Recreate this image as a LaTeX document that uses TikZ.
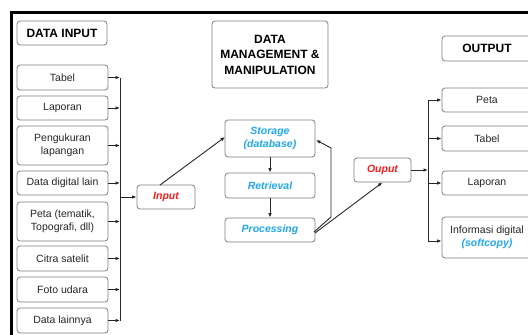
\documentclass[tikz,border=0pt]{standalone}
\usepackage{fontspec}
\setmainfont{Liberation Sans}
\usetikzlibrary{arrows.meta}
\definecolor{boxgray}{HTML}{7F7F7F}
\definecolor{txtblue}{HTML}{1FA8F0}
\definecolor{txtred}{HTML}{FF1A1A}
\tikzset{
  box/.style={draw=boxgray, line width=0.8pt, rounded corners=3pt, fill=white,
    align=center, inner sep=1pt, font=\fontsize{10.5}{12.5}\selectfont, text=black!85},
  titlebox/.style={box, font=\bfseries\fontsize{12}{15.5}\selectfont, text=black},
  bluet/.style={text=txtblue, font=\bfseries\itshape\fontsize{10.5}{13}\selectfont},
  redt/.style={text=txtred, font=\bfseries\itshape\fontsize{10.5}{13}\selectfont},
  conn/.style={line width=0.9pt, draw=black!85},
  arr/.style={conn, -{Latex[length=4.5pt,width=3.6pt]}},
  frame/.style={line width=3pt, draw=black}
}
\begin{document}
\begin{tikzpicture}[x=1pt,y=-1pt]
\useasboundingbox (0,0) rectangle (528,335);
\clip (0,0) rectangle (528,335);
% frame
\draw[frame] (11,335) -- (11,12.5) -- (528,12.5);
% titles
\node[titlebox, minimum width=90pt, minimum height=24pt] (tin) at (62,33) {DATA INPUT};
\node[titlebox, minimum width=116pt, minimum height=67pt] (tdm) at (270,54.5) {DATA\\MANAGEMENT \&\\MANIPULATION};
\node[titlebox, minimum width=90pt, minimum height=25pt] (tout) at (487,48.5) {OUTPUT};
% input boxes
\node[box, minimum width=91pt, minimum height=25pt] (in1) at (62.5,77.5) {Tabel};
\node[box, minimum width=91pt, minimum height=24pt] (in2) at (62.5,108) {Laporan};
\node[box, minimum width=91pt, minimum height=39pt] (in3) at (62.5,145.5) {Pengukuran\\lapangan};
\node[box, minimum width=91pt, minimum height=24pt] (in4) at (62.5,183) {Data digital lain};
\node[box, minimum width=91pt, minimum height=39pt] (in5) at (62.5,221.5) {Peta (tematik,\\Topografi, dll)};
\node[box, minimum width=91pt, minimum height=25pt] (in6) at (62.5,258.5) {Citra satelit};
\node[box, minimum width=91pt, minimum height=25pt] (in7) at (62.5,289.5) {Foto udara};
\node[box, minimum width=91pt, minimum height=25pt] (in8) at (62.5,320.5) {Data lainnya};
% input bus
\coordinate (bt) at (120,77.5);
\coordinate (bb) at (120,320.5);
\coordinate (bm) at (120,197);
\draw[conn] (bt) -- (bb);
\foreach \i in {1,...,8}{
  \draw[arr] (in\i.east) -- (in\i.east -| bt);
}
% middle
\node[box, minimum width=58pt, minimum height=24pt, redt] (inp) at (166,197) {Input};
\draw[arr] (bm) -- (inp.west);
\node[box, minimum width=90pt, minimum height=37pt, bluet] (sto) at (270,138.5) {Storage\\(database)};
\node[box, minimum width=90pt, minimum height=25pt, bluet] (ret) at (270,185.5) {Retrieval};
\node[box, minimum width=90pt, minimum height=24pt, bluet] (pro) at (270,230) {Processing};
\coordinate (ia) at (160,185);
\coordinate (sa) at (225,137);
\draw[arr] (ia) -- (sa);
\draw[arr] (sto) -- (ret);
\draw[arr] (ret) -- (pro);
\coordinate (pa) at (314,232);
\coordinate (pb) at (331,217);
\coordinate (pc) at (331,148);
\coordinate (sb) at (316,140);
\draw[arr] (pa) -- (pb) -- (pc) -- (sb);
\node[box, minimum width=57pt, minimum height=24pt, redt] (oup) at (382.5,170) {Ouput};
\coordinate (pd) at (315,233);
\draw[arr] (pd) -- (oup.south);
% output bus
\coordinate (ot) at (428,100);
\coordinate (ob) at (428,241);
\draw[conn] (ot) -- (ob);
\draw[arr] (oup.east) -- (oup.east -| ot);
\node[box, minimum width=90pt, minimum height=24pt] (out1) at (487,100) {Peta};
\node[box, minimum width=90pt, minimum height=25pt] (out2) at (487,138.5) {Tabel};
\node[box, minimum width=90pt, minimum height=24pt] (out3) at (487,183) {Laporan};
\node[box, minimum width=90pt, minimum height=41pt] (out4) at (487,237.5) {Informasi digital\\{\bfseries\itshape\color{txtblue}(softcopy)}};
\draw[arr] (ot) -- (ot -| out1.west);
\draw[arr] (out2.west -| ot) -- (out2.west);
\draw[arr] (out3.west -| ot) -- (out3.west);
\draw[arr] (ob) -- (ob -| out4.west);
\end{tikzpicture}
\end{document}
